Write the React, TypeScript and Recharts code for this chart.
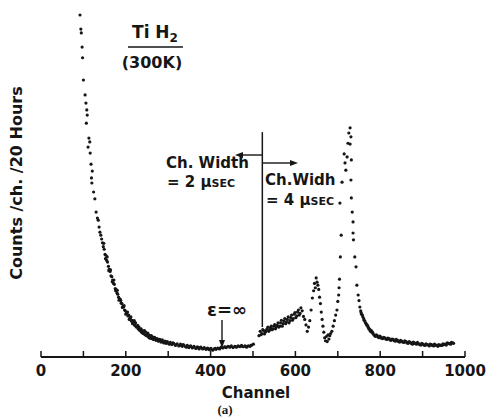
import { ScatterChart, Scatter, XAxis, YAxis, ReferenceLine } from 'recharts'

const INK = '#161616'
const FONT = '"DejaVu Sans", sans-serif'

// [channel, counts]; counts are in y-tick units (0..8)
const steepDecay: [number, number][] = [
  [92, 8.0], [94, 7.67], [95, 7.58], [97, 7.25], [98, 7.0], [100, 6.48],
  [104, 6.13], [106, 5.94], [107, 5.47], [108, 5.78], [109, 5.66], [111, 4.91],
  [113, 5.12], [115, 5.03], [116, 4.77], [118, 4.51], [119, 4.19], [120, 4.07],
  [121, 4.35], [124, 3.86], [127, 3.7], [130, 3.39], [133, 3.25], [135, 3.2],
  [137, 3.04], [139, 2.92], [141, 2.85], [143, 2.76], [145, 2.67],
]

const decayBand: [number, number][] = [
  [147, 2.58], [149, 2.52], [151, 2.4], [153, 2.38], [155, 2.26], [157, 2.22],
  [159, 2.12], [161, 2.05], [163, 2.0], [165, 1.9], [167, 1.88], [169, 1.8],
  [171, 1.72], [173, 1.7], [175, 1.6], [177, 1.58], [179, 1.5], [181, 1.47],
  [183, 1.4], [185, 1.36], [187, 1.35], [189, 1.26], [191, 1.25], [193, 1.18],
  [195, 1.17], [197, 1.1], [199, 1.08], [201, 1.02], [203, 1.04], [205, 0.96],
  [207, 0.98], [209, 0.9], [211, 0.92], [213, 0.84], [215, 0.86], [217, 0.8],
  [219, 0.83], [221, 0.74], [223, 0.8], [225, 0.7], [227, 0.72], [229, 0.66],
  [231, 0.7], [233, 0.62], [235, 0.65], [237, 0.58], [239, 0.62], [241, 0.55],
  [243, 0.6], [245, 0.52], [247, 0.58], [249, 0.5], [251, 0.53], [253, 0.47],
  [255, 0.51], [257, 0.44], [259, 0.49], [261, 0.43], [263, 0.47], [265, 0.41],
  [268, 0.46], [271, 0.39], [274, 0.43], [277, 0.37], [280, 0.41], [283, 0.35],
  [286, 0.4], [289, 0.34], [292, 0.37], [295, 0.32], [298, 0.36],
]

const decayScatter: [number, number][] = [
  [148, 2.66], [152, 2.3], [156, 2.34], [160, 2.02], [164, 2.04], [168, 1.76],
  [172, 1.8], [176, 1.55], [180, 1.56], [184, 1.33], [188, 1.32], [192, 1.16],
  [196, 1.2], [200, 1.0], [204, 1.05], [208, 0.88], [212, 0.94], [216, 0.78],
  [220, 0.85], [224, 0.72], [228, 0.74], [232, 0.64], [236, 0.66], [240, 0.56],
  [244, 0.62], [248, 0.51], [252, 0.56], [256, 0.45], [260, 0.5], [266, 0.44],
  [272, 0.42], [278, 0.4], [284, 0.37], [290, 0.33], [296, 0.35], [303, 0.3],
  [311, 0.33], [319, 0.29], [327, 0.27], [335, 0.29], [343, 0.23], [351, 0.25],
  [359, 0.23], [367, 0.21], [375, 0.22], [383, 0.2], [391, 0.19], [399, 0.19],
  [411, 0.2], [423, 0.21], [435, 0.23], [447, 0.24], [459, 0.24], [471, 0.25],
  [483, 0.25], [495, 0.27],
]

const tailBand: [number, number][] = [
  [301, 0.31], [305, 0.34], [309, 0.29], [313, 0.32], [317, 0.27], [321, 0.31],
  [325, 0.26], [329, 0.3], [333, 0.25], [337, 0.28], [341, 0.24], [345, 0.27],
  [349, 0.22], [353, 0.26], [357, 0.21], [361, 0.25], [365, 0.2], [369, 0.24],
  [373, 0.19], [377, 0.23], [381, 0.19], [385, 0.22], [389, 0.18], [393, 0.21],
  [397, 0.17], [401, 0.2], [405, 0.16], [409, 0.19], [413, 0.18], [417, 0.21],
  [421, 0.19], [425, 0.23], [429, 0.21], [433, 0.24], [437, 0.22], [441, 0.25],
  [445, 0.23], [449, 0.26], [453, 0.22], [457, 0.25], [461, 0.23], [465, 0.26],
  [469, 0.24], [473, 0.27], [477, 0.24], [481, 0.26], [485, 0.23], [489, 0.26],
  [493, 0.25], [497, 0.28], [501, 0.3],
]

const sideBand: [number, number][] = [
  [514, 0.5], [517, 0.6], [521, 0.55], [525, 0.62], [529, 0.58], [533, 0.66],
  [537, 0.6], [541, 0.68], [545, 0.64], [549, 0.72], [553, 0.66], [557, 0.74],
  [561, 0.7], [565, 0.8], [569, 0.72], [573, 0.84], [577, 0.78], [581, 0.88],
  [585, 0.8], [589, 0.92], [593, 0.86], [597, 1.0], [601, 0.92], [605, 1.05],
  [609, 0.98], [613, 1.15], [616, 1.08], [619, 0.95], [622, 0.88], [625, 0.75],
  [628, 0.6], [631, 0.7], [634, 0.85], [637, 1.1], [640, 1.38], [643, 1.55],
  [645, 1.72], [647, 1.62], [649, 1.85], [651, 1.75], [653, 1.68], [655, 1.58],
  [657, 1.4], [659, 1.25], [661, 1.05], [663, 0.88], [665, 0.72], [667, 0.58],
  [669, 0.45], [671, 0.38], [673, 0.48], [675, 0.36], [677, 0.52], [679, 0.42],
  [681, 0.5], [683, 0.55], [686, 0.6], [689, 0.72], [692, 0.85], [695, 0.98],
  [698, 1.1],
]

const sideScatter: [number, number][] = [
  [519, 0.52], [523, 0.64], [527, 0.54], [531, 0.62], [535, 0.7], [539, 0.63],
  [543, 0.72], [547, 0.66], [551, 0.76], [555, 0.7], [559, 0.8], [563, 0.72],
  [567, 0.86], [571, 0.78], [575, 0.9], [579, 0.82], [583, 0.94], [587, 0.85],
  [591, 0.98], [595, 0.9], [599, 1.04], [603, 0.96], [607, 1.1], [611, 1.02],
]

const mainPeak: [number, number][] = [
  [700, 1.3], [702, 1.45], [703, 1.62], [704, 1.82], [706, 2.34], [708, 2.85],
  [705, 3.6], [710, 4.09], [715, 4.75], [717, 4.54], [719, 4.37], [722, 4.68],
  [724, 5.0], [726, 5.24], [729, 5.36], [729, 4.98], [731, 5.15], [732, 4.61],
  [731, 4.14], [732, 3.72], [734, 3.39], [736, 3.16], [736, 2.9], [737, 2.74],
  [740, 2.34], [743, 2.11], [745, 1.68], [748, 1.45], [750, 1.32], [752, 1.17],
  [754, 1.08], [756, 1.0], [759, 0.94], [762, 0.86], [765, 0.8], [768, 0.75],
  [771, 0.7], [774, 0.65], [777, 0.6], [780, 0.58], [783, 0.55], [787, 0.5],
  [791, 0.52], [795, 0.47], [799, 0.49], [803, 0.44], [808, 0.46], [813, 0.42],
  [818, 0.44], [823, 0.4], [828, 0.42], [833, 0.38], [838, 0.41], [843, 0.36],
  [848, 0.39], [853, 0.35], [858, 0.38], [863, 0.33], [868, 0.36], [873, 0.32],
  [878, 0.35], [883, 0.31], [888, 0.34], [893, 0.29], [898, 0.32], [903, 0.28],
  [908, 0.31], [913, 0.28], [918, 0.3], [923, 0.27], [928, 0.3], [933, 0.27],
  [938, 0.29], [943, 0.28], [948, 0.31], [953, 0.3], [958, 0.33], [963, 0.31],
  [968, 0.34], [973, 0.32],
]

const peakTailScatter: [number, number][] = [
  [755, 1.04], [758, 0.98], [761, 0.9], [764, 0.84], [767, 0.78], [770, 0.74],
  [773, 0.68], [776, 0.64], [779, 0.62], [782, 0.58], [785, 0.52], [789, 0.48],
  [793, 0.5], [797, 0.45], [801, 0.47], [806, 0.43], [811, 0.45], [816, 0.41],
  [821, 0.43], [826, 0.39], [831, 0.41], [836, 0.37], [841, 0.39], [846, 0.35],
  [851, 0.37], [856, 0.34], [861, 0.36], [866, 0.32], [871, 0.34], [876, 0.3],
  [881, 0.33], [886, 0.3], [891, 0.31], [896, 0.28], [901, 0.3], [906, 0.27],
  [911, 0.29], [916, 0.26], [921, 0.29], [926, 0.26], [931, 0.28], [936, 0.25],
  [941, 0.27], [946, 0.27], [951, 0.29], [956, 0.28], [961, 0.32], [966, 0.3],
  [971, 0.33],
]

const xTicks = [0, 100, 200, 300, 400, 500, 600, 700, 800, 900, 1000]
const xLabelStep = 200
const yTicks = [0, 1, 2, 3, 4, 5, 6, 7, 8]

// channel-width boundary marker
const dividerChannel = 522
const dividerBottom = 0.7
const dividerTop = 5.26

const points = [
  ...steepDecay,
  ...decayBand,
  ...decayScatter,
  ...tailBand,
  ...sideBand,
  ...sideScatter,
  ...mainPeak,
  ...peakTailScatter,
].map(([ch, counts]) => ({ ch, counts }))

const Dot = (props: any) => <circle cx={props.cx} cy={props.cy} r={1.6} fill={INK} />

// ticks point inward; only every other one carries a number
const XTick = (props: any) => {
  const { x, y, payload } = props
  return (
    <g>
      <line x1={x} y1={y} x2={x} y2={y - 6} stroke={INK} strokeWidth={1.5} />
      {payload.value % xLabelStep === 0 && (
        <text
          x={x}
          y={y + 19}
          textAnchor="middle"
          fontFamily={FONT}
          fontSize={15}
          fontWeight="bold"
          fill={INK}
        >
          {payload.value}
        </text>
      )}
    </g>
  )
}

const YTick = (props: any) => {
  const { x, y } = props
  return <line x1={x} y1={y} x2={x + 6} y2={y} stroke={INK} strokeWidth={1.5} />
}

function Annotations() {
  const txt = { fontFamily: FONT, fontSize: 15, fontWeight: 'bold' as const, fill: INK }
  return (
    <svg
      width={488}
      height={417}
      style={{ position: 'absolute', left: 0, top: 0, pointerEvents: 'none' }}
    >
      {/* sample label */}
      <text x={155} y={38} textAnchor="middle" {...txt} fontSize={17}>
        Ti H<tspan fontSize={12} dy={4}>2</tspan>
      </text>
      <line x1={128} y1={47} x2={183} y2={47} stroke={INK} strokeWidth={1.6} />
      <text x={152} y={68} textAnchor="middle" {...txt} fontSize={16}>
        (300K)
      </text>

      {/* channel width notes */}
      <text x={166} y={168} {...txt}>Ch. Width</text>
      <text x={167} y={187} {...txt}>
        = 2 μ<tspan fontSize={11}>SEC</tspan>
      </text>
      <line x1={240} y1={155} x2={262} y2={155} stroke={INK} strokeWidth={1.4} />
      <polygon points="235,155 243,152 243,158" fill={INK} />
      <line x1={263} y1={163} x2={291} y2={163} stroke={INK} strokeWidth={1.4} />
      <polygon points="298,163 290,160 290,166" fill={INK} />
      <text x={265} y={185} {...txt}>Ch.Widh</text>
      <text x={266} y={205} {...txt}>
        = 4 μ<tspan fontSize={11}>SEC</tspan>
      </text>

      {/* epsilon marker */}
      <text x={227} y={316} textAnchor="middle" {...txt} fontSize={18}>ε=∞</text>
      <line x1={222} y1={320} x2={222} y2={341} stroke={INK} strokeWidth={1.4} />
      <polygon points="222,348 219,340 225,340" fill={INK} />

      {/* axis titles */}
      <text
        x={16}
        y={183}
        textAnchor="middle"
        dominantBaseline="central"
        transform="rotate(-90 16 183)"
        {...txt}
        fontSize={16}
      >
        Counts /ch. /20 Hours
      </text>
      <text x={256} y={398} textAnchor="middle" {...txt}>
        Channel
      </text>
      <text
        x={225}
        y={414}
        textAnchor="middle"
        fontFamily='"Liberation Serif", serif'
        fontSize={13}
        fontWeight="bold"
        fill={INK}
      >
        (a)
      </text>
    </svg>
  )
}

export default function App() {
  return (
    <div style={{ position: 'absolute', left: 0, top: 0, width: 488, height: 417, background: '#fff' }}>
      <ScatterChart width={488} height={417} margin={{ top: 15, right: 23, bottom: 30, left: 41 }}>
        <XAxis
          type="number"
          dataKey="ch"
          domain={[0, 1000]}
          ticks={xTicks}
          height={30}
          tickSize={0}
          tickMargin={0}
          tickLine={false}
          tick={XTick}
          axisLine={{ stroke: INK, strokeWidth: 2 }}
        />
        <YAxis
          type="number"
          dataKey="counts"
          domain={[0, 8]}
          ticks={yTicks}
          width={0}
          tickSize={0}
          tickMargin={0}
          tickLine={false}
          tick={YTick}
          axisLine={{ stroke: INK, strokeWidth: 2 }}
        />
        <ReferenceLine
          segment={[
            { x: dividerChannel, y: dividerBottom },
            { x: dividerChannel, y: dividerTop },
          ]}
          stroke={INK}
          strokeWidth={1.5}
        />
        <Scatter data={points} shape={Dot} isAnimationActive={false} />
      </ScatterChart>
      <Annotations />
    </div>
  )
}
